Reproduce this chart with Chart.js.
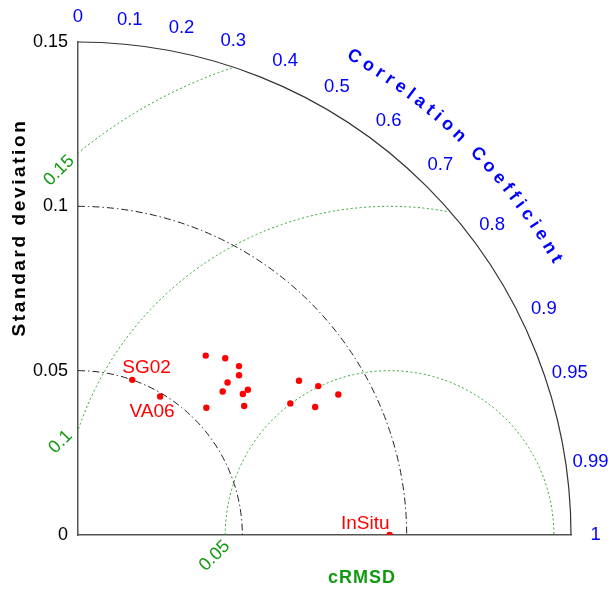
<!DOCTYPE html>
<html>
<head>
<meta charset="utf-8">
<title>Taylor diagram</title>
<script src="https://cdn.jsdelivr.net/npm/chart.js@4.4.1/dist/chart.umd.min.js"></script>
<style>
  body { margin: 0; background: #fff; }
  #wrap { width: 610px; height: 592px; position: relative; }
</style>
</head>
<body>
<div id="wrap"><canvas id="myChart"></canvas></div>
<script>
// unnamed model points (std dev, correlation with in-situ)
const modelStd  = [0.067, 0.070, 0.071, 0.069, 0.065, 0.062, 0.066, 0.068, 0.055, 0.064, 0.082, 0.086, 0.090, 0.076, 0.082];
const modelCorr = [0.58, 0.64, 0.69, 0.71, 0.70, 0.71, 0.76, 0.76, 0.71, 0.79, 0.82, 0.85, 0.88, 0.85, 0.88];

// labelled points
const namedLabels = ['SG02', 'VA06', 'InSitu'];
const namedStd    = [0.050, 0.049, 0.0948];
const namedCorr   = [0.33, 0.51, 1];
const refStd = 0.0948;

// axes
const stdTicks      = [0, 0.05, 0.1, 0.15];
const stdTickLabels = ['0', '0.05', '0.1', '0.15'];
const stdArcs = [0.05, 0.1];
const maxStd  = 0.15;
const corrTicks      = [0, 0.1, 0.2, 0.3, 0.4, 0.5, 0.6, 0.7, 0.8, 0.9, 0.95, 0.99, 1];
const corrTickLabels = ['0', '0.1', '0.2', '0.3', '0.4', '0.5', '0.6', '0.7', '0.8', '0.9', '0.95', '0.99', '1'];
const rmsTicks      = [0.05, 0.1, 0.15];
const rmsTickLabels = ['0.05', '0.1', '0.15'];

const FONT = '"Liberation Sans", Arial, sans-serif';
const BLUE = '#0000ff', GREEN = '#129a12', RED = '#ff0000';

// label placement (style only)
const rmsLabelAngle  = [186.8, 164.2, 132.2];
const rmsLabelRadius = [1.072, 1.04, 0.998];
const namedOffsets = [
  { dx: -10, dy: -12, align: 'left' },
  { dx: -8,  dy: 15,  align: 'center' },
  { dx: 0,   dy: -11, align: 'right' }
];

function toXY(s, c) {
  return { x: s * c, y: s * Math.sqrt(Math.max(0, 1 - c * c)) };
}

const modelData = modelStd.map((s, i) => toXY(s, modelCorr[i]));
const namedData = namedStd.map((s, i) => toXY(s, namedCorr[i]));

const taylorPlugin = {
  id: 'taylor',
  beforeDatasetsDraw(chart) {
    const { ctx, chartArea, scales: { x, y } } = chart;
    const ox = x.getPixelForValue(0), oy = y.getPixelForValue(0);
    const k = x.getPixelForValue(1) - ox;
    const rx = x.getPixelForValue(refStd);
    ctx.save();

    // std dev arcs
    ctx.lineWidth = 1;
    ctx.strokeStyle = '#222';
    ctx.setLineDash([7, 3, 1.5, 3]);
    stdArcs.forEach(function (s) {
      ctx.beginPath();
      ctx.arc(ox, oy, s * k, -Math.PI / 2, 0);
      ctx.stroke();
    });
    ctx.setLineDash([]);
    ctx.strokeStyle = '#333';
    ctx.lineWidth = 1.2;
    ctx.beginPath();
    ctx.arc(ox, oy, maxStd * k, -Math.PI / 2, 0);
    ctx.stroke();

    // cRMSD arcs
    ctx.save();
    ctx.beginPath();
    ctx.moveTo(ox, oy);
    ctx.arc(ox, oy, maxStd * k - 1, -Math.PI / 2, 0);
    ctx.closePath();
    ctx.clip();
    ctx.strokeStyle = '#2aa52a';
    ctx.lineWidth = 1;
    ctx.setLineDash([2, 2.5]);
    rmsTicks.forEach(function (r) {
      ctx.beginPath();
      ctx.arc(rx, oy, r * k, Math.PI, 2 * Math.PI);
      ctx.stroke();
    });
    ctx.restore();
    ctx.setLineDash([]);

    // cRMSD labels
    ctx.fillStyle = GREEN;
    ctx.font = '18px ' + FONT;
    ctx.textAlign = 'center';
    ctx.textBaseline = 'middle';
    rmsTicks.forEach(function (r, i) {
      const a = rmsLabelAngle[i] * Math.PI / 180;
      const rr = r * k * rmsLabelRadius[i];
      ctx.save();
      ctx.translate(rx + rr * Math.cos(a), oy - rr * Math.sin(a));
      ctx.rotate(-Math.PI / 4);
      ctx.fillText(rmsTickLabels[i], 0, 0);
      ctx.restore();
    });

    // correlation tick labels
    ctx.fillStyle = BLUE;
    ctx.font = '18.5px ' + FONT;
    const R = 0.1575 * k;
    corrTicks.forEach(function (c, i) {
      const a = Math.acos(c);
      ctx.fillText(corrTickLabels[i], ox + R * Math.cos(a), oy - R * Math.sin(a));
    });

    // curved title
    const title = 'Correlation Coefficient';
    ctx.font = 'bold 18px ' + FONT;
    const TR = 0.168 * k;
    const a0 = 60 * Math.PI / 180, a1 = 30 * Math.PI / 180;
    const widths = title.split('').map(ch => ctx.measureText(ch).width);
    const n = widths.length;
    let natural = 0;
    for (let i = 0; i < n - 1; i++) natural += (widths[i] + widths[i + 1]) / 2;
    const sp = ((a0 - a1) * TR - natural) / (n - 1);
    let pos = 0;
    for (let i = 0; i < n; i++) {
      if (i > 0) pos += (widths[i - 1] + widths[i]) / 2 + sp;
      const a = a0 - pos / TR;
      ctx.save();
      ctx.translate(ox + TR * Math.cos(a), oy - TR * Math.sin(a));
      ctx.rotate(Math.PI / 2 - a);
      ctx.fillText(title[i], 0, 0);
      ctx.restore();
    }

    // axis titles
    ctx.fillStyle = '#000';
    ctx.font = 'bold 19px ' + FONT;
    ctx.letterSpacing = '2.6px';
    ctx.save();
    ctx.translate(chartArea.left - 58, (chartArea.top + chartArea.bottom) / 2 - 60);
    ctx.rotate(-Math.PI / 2);
    ctx.fillText('Standard deviation', 1, 0);
    ctx.restore();
    ctx.letterSpacing = '1px';
    ctx.fillStyle = GREEN;
    ctx.font = 'bold 18px ' + FONT;
    ctx.fillText('cRMSD', ox + 284, oy + 43);
    ctx.letterSpacing = '0px';
    ctx.restore();
  },
  afterDatasetsDraw(chart) {
    const { ctx } = chart;
    const meta = chart.getDatasetMeta(1);
    ctx.save();
    ctx.fillStyle = RED;
    ctx.font = '19px ' + FONT;
    ctx.textBaseline = 'middle';
    meta.data.forEach(function (pt, i) {
      const o = namedOffsets[i];
      ctx.textAlign = o.align;
      ctx.fillText(namedLabels[i], pt.x + o.dx, pt.y + o.dy);
    });
    ctx.restore();
  }
};

const config = {
  type: 'scatter',
  data: {
    datasets: [
      { label: 'models', data: modelData, backgroundColor: RED, borderWidth: 0, pointRadius: 3.2 },
      { label: 'named', data: namedData, backgroundColor: RED, borderWidth: 0, pointRadius: 3.2 }
    ]
  },
  options: {
    responsive: true,
    maintainAspectRatio: false,
    animation: false,
    layout: { padding: { left: 0, right: 39, top: 42, bottom: 0 } },
    plugins: { legend: { display: false }, tooltip: { enabled: false } },
    scales: {
      x: {
        type: 'linear', min: 0, max: maxStd,
        ticks: { display: false },
        grid: { display: false, drawTicks: false },
        border: { display: true, color: '#555', width: 1.5 },
        afterFit: function (scale) { scale.height = 57; }
      },
      y: {
        type: 'linear', min: 0, max: maxStd,
        afterBuildTicks: function (scale) { scale.ticks = stdTicks.map(v => ({ value: v })); },
        ticks: {
          padding: 10, color: '#000', font: { size: 18, family: FONT },
          callback: function (v, i) { return stdTickLabels[i]; }
        },
        grid: { display: false, drawTicks: false },
        border: { display: true, color: '#555', width: 1.5 },
        afterFit: function (scale) { scale.width = 78; }
      }
    }
  },
  plugins: [taylorPlugin]
};

var myChart = new Chart(document.getElementById('myChart'), config);
</script>
</body>
</html>
